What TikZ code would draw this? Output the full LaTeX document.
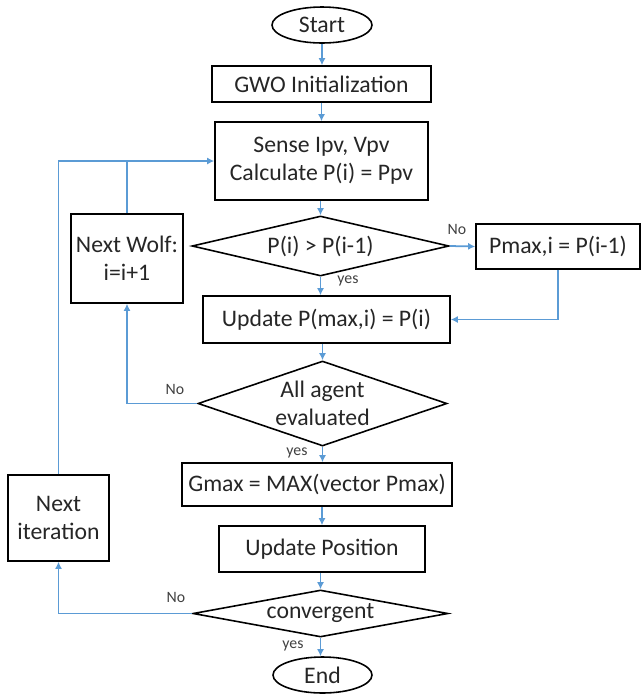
\documentclass[tikz,border=0pt]{standalone}
\usepackage{fontspec}
\setmainfont{Carlito}
\usetikzlibrary{shapes.geometric,arrows.meta}
\definecolor{arrowblue}{RGB}{91,155,213}
\definecolor{textgray}{RGB}{38,38,38}

\begin{document}
\begin{tikzpicture}[>={Latex[length=4pt,width=4pt]},
    box/.style={draw,line width=0.9pt,inner sep=0pt,align=center,text=textgray,font=\fontsize{13.5}{16}\selectfont},
    term/.style={box,ellipse},
    decision/.style={box,diamond},
    flow/.style={->,color=arrowblue,line width=1pt},
    lbl/.style={font=\fontsize{9}{10}\selectfont,text=darkgray,inner sep=0pt}]
          \useasboundingbox (0,0) rectangle (12.84,-13.9);
          % main column
          \node[term,minimum width=2cm,minimum height=0.72cm] (start) at (6.44,-0.5) {Start};
          \node[box,minimum width=4.38cm,minimum height=0.72cm] (init) at (6.43,-1.68) {GWO Initialization};
          \node[box,minimum width=4.26cm,minimum height=1.56cm] (sense) at (6.43,-3.22) {Sense Ipv, Vpv\\Calculate P(i) = Ppv};
          \node[decision,minimum width=5.14cm,minimum height=1.2cm,aspect=4.3] (cmp) at (6.41,-4.92) {P(i) > P(i-1)};
          \node[box,minimum width=4.94cm,minimum height=0.94cm] (upd) at (6.53,-6.39) {Update P(max,i) = P(i)};
          \node[decision,minimum width=4.98cm,minimum height=1.7cm,aspect=2.93] (agents) at (6.45,-8.07) {All agent\\evaluated};
          \node[box,minimum width=5.4cm,minimum height=0.86cm] (gmax) at (6.34,-9.69) {Gmax = MAX(vector Pmax)};
          \node[box,minimum width=4.12cm,minimum height=0.92cm] (pos) at (6.44,-10.98) {Update Position};
          \node[decision,minimum width=5.1cm,minimum height=0.94cm,aspect=5.4] (conv) at (6.41,-12.27) {convergent};
          \node[term,minimum width=1.98cm,minimum height=0.72cm] (end) at (6.45,-13.5) {End};
          % side boxes
          \node[box,minimum width=3.28cm,minimum height=0.9cm] (pmax) at (11.16,-4.93) {Pmax,i = P(i-1)};
          \node[box,minimum width=2.24cm,minimum height=1.78cm] (wolf) at (2.54,-5.17) {Next Wolf:\\i=i+1};
          \node[box,minimum width=2.02cm,minimum height=1.72cm] (iter) at (1.17,-10.36) {Next\\iteration};
          % labels
          \node[lbl] (no1) at (9.14,-4.58) {No};
          \node[lbl] (yes1) at (6.96,-5.62) {yes};
          \node[lbl] (no2) at (3.5,-7.78) {No};
          \node[lbl] (yes2) at (5.94,-9.06) {yes};
          \node[lbl] (no3) at (3.52,-11.94) {No};
          \node[lbl] (yes3) at (5.86,-12.92) {yes};
          % connectors
          \draw[flow] (start.south) -- (start.south |- init.north);
          \draw[flow] (init.south) -- (init.south |- sense.north);
          \draw[flow] (sense.south -| cmp.north) -- (cmp.north);
          \draw[flow] (cmp.south) -- (cmp.south |- upd.north);
          \draw[flow] (cmp.east) -- (pmax.west);
          \draw[flow] (pmax.south) |- (upd.east);
          \draw[flow] (upd.south -| agents.north) -- (agents.north);
          \draw[flow] (agents.west) -| (wolf.south);
          \draw[flow,-] (wolf.north) -- (wolf.north |- sense.west);
          \draw[flow] (agents.south) -- (agents.south |- gmax.north);
          \draw[flow] (gmax.south -| pos.north) -- (pos.north);
          \draw[flow] (pos.south -| conv.north) -- (conv.north);
          \draw[flow] (conv.south) -- (conv.south |- end.north);
          \draw[flow] (conv.west) -| (iter.south);
          \draw[flow] (iter.north) |- (sense.west);
        \end{tikzpicture}
\end{document}
